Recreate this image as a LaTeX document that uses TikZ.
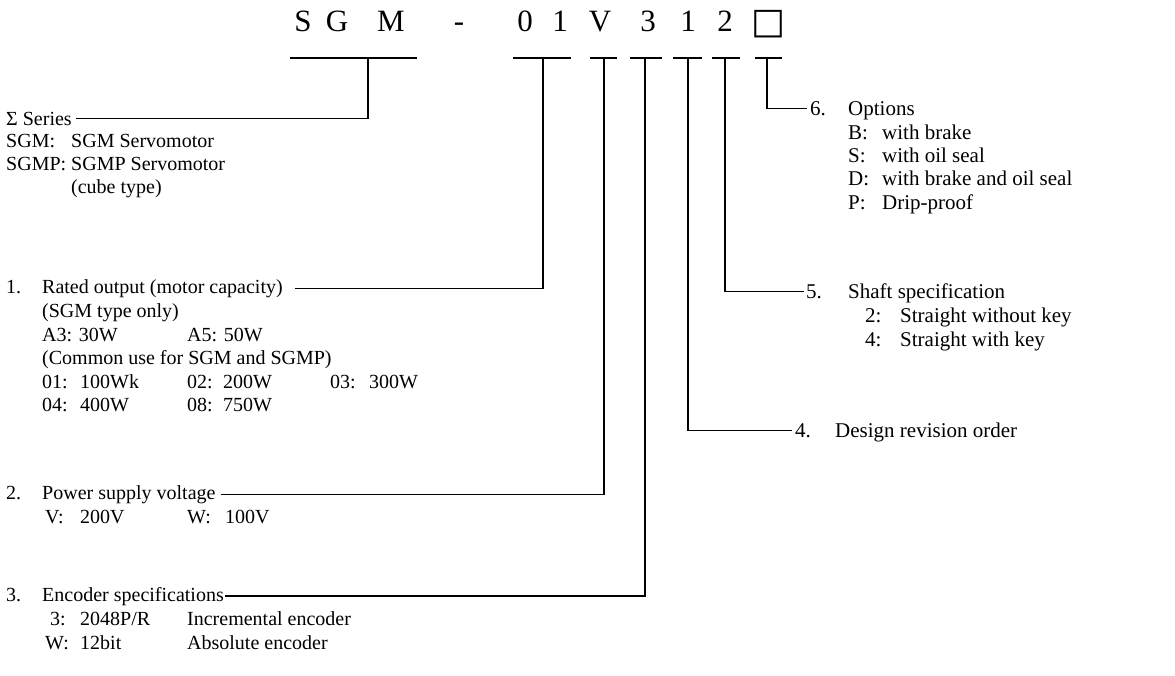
\documentclass[tikz,border=0pt]{standalone}
\usepackage{fontspec}
\setmainfont{Liberation Serif}
\newfontfamily\symfont{DejaVu Sans}
\begin{document}
\begin{tikzpicture}[x=1pt,y=-1pt,
  txt/.style={anchor=base west,inner sep=0pt,font=\fontsize{20}{24}\selectfont},
  rtxt/.style={anchor=base west,inner sep=0pt,font=\fontsize{21}{25}\selectfont},
  hd/.style={anchor=base,inner sep=0pt,font=\fontsize{31}{36}\selectfont},
  ln/.style={line width=1.3pt},
  bar/.style={line width=1.3pt}]
\useasboundingbox (0,0) rectangle (1175,675);
% header
\node[hd] (hS) at (303,31) {S};
\node[hd] (hG) at (337,31) {G};
\node[hd] (hM) at (391,31) {M};
\node[hd] (hD) at (459,31) {-};
\node[hd] (h0) at (525,31) {0};
\node[hd] (h1) at (560,31) {1};
\node[hd] (hV) at (600,31) {V};
\node[hd] (h3) at (648,31) {3};
\node[hd] (h1b) at (688,31) {1};
\node[hd] (h2) at (725,31) {2};
\node[hd,font=\symfont\fontsize{36}{40}\selectfont] (hB) at (768,33) {□};
% stem tops
\coordinate (sS) at (368,58);
\coordinate (s1) at (543,58);
\coordinate (s2) at (604,58);
\coordinate (s3) at (645,58);
\coordinate (s4) at (688,58);
\coordinate (s5) at (725,58);
\coordinate (s6) at (767,58);
% underlines
\draw[bar] (290,58) -- (417,58);
\draw[bar] (513,58) -- (571,58);
\draw[bar] (590,58) -- (617,58);
\draw[bar] (630,58) -- (662,58);
\draw[bar] (673,58) -- (702,58);
\draw[bar] (712,58) -- (740,58);
\draw[bar] (755,58) -- (782,58);
% left texts
\node[txt] (sig) at (6,125) {Σ Series};
\node[txt] (sgm) at (6,147) {SGM:};
\node[txt] (sgmt) at (71,147) {SGM Servomotor};
\node[txt] (sgmp) at (6,170) {SGMP:};
\node[txt] (sgmpt) at (71,170) {SGMP Servomotor};
\node[txt] (cube) at (71,193) {(cube type)};
\node[txt] (n1) at (6,293) {1.};
\node[txt] (t1) at (42,293) {Rated output (motor capacity)};
\node[txt] (only) at (42,317) {(SGM type only)};
\node[txt] (a3) at (42,341) {A3: 30W};
\node[txt] (a5) at (187,341) {A5: 50W};
\node[txt] (com) at (42,364) {(Common use for SGM and SGMP)};
\node[txt] (c01) at (42,388) {01:};
\node[txt] (v01) at (80,388) {100Wk};
\node[txt] (c02) at (187,388) {02:};
\node[txt] (v02) at (223,388) {200W};
\node[txt] (c03) at (330,388) {03:};
\node[txt] (v03) at (369,388) {300W};
\node[txt] (c04) at (42,411) {04:};
\node[txt] (v04) at (80,411) {400W};
\node[txt] (c08) at (187,411) {08:};
\node[txt] (v08) at (223,411) {750W};
\node[txt] (n2) at (6,499) {2.};
\node[txt] (t2) at (42,499) {Power supply voltage};
\node[txt] (cv) at (45,523) {V:};
\node[txt] (vv) at (80,523) {200V};
\node[txt] (cw) at (187,523) {W:};
\node[txt] (vw) at (225,523) {100V};
\node[txt] (n3) at (6,601) {3.};
\node[txt] (t3) at (42,601) {Encoder specifications};
\node[txt] (e3) at (50,625) {3:};
\node[txt] (e3v) at (80,625) {2048P/R};
\node[txt] (e3d) at (187,625) {Incremental encoder};
\node[txt] (ew) at (45,649) {W:};
\node[txt] (ewv) at (80,649) {12bit};
\node[txt] (ewd) at (187,649) {Absolute encoder};
% right texts
\node[rtxt] (n6) at (810,115) {6.};
\node[rtxt] (t6) at (848,115) {Options};
\node[rtxt] (oB) at (848,139) {B:};
\node[rtxt] (oBt) at (882,139) {with brake};
\node[rtxt] (oS) at (848,162) {S:};
\node[rtxt] (oSt) at (882,162) {with oil seal};
\node[rtxt] (oD) at (848,185) {D:};
\node[rtxt] (oDt) at (882,185) {with brake and oil seal};
\node[rtxt] (oP) at (848,209) {P:};
\node[rtxt] (oPt) at (882,209) {Drip-proof};
\node[rtxt] (n5) at (806,298) {5.};
\node[rtxt] (t5) at (848,298) {Shaft specification};
\node[rtxt] (k2) at (865,322) {2:};
\node[rtxt] (k2t) at (900,322) {Straight without key};
\node[rtxt] (k4) at (865,346) {4:};
\node[rtxt] (k4t) at (900,346) {Straight with key};
\node[rtxt] (n4) at (795,437) {4.};
\node[rtxt] (t4) at (835,437) {Design revision order};
% connectors
\draw[ln] ([xshift=4pt]sig.east) -| (sS);
\draw[ln] ([xshift=12pt]t1.east) -| (s1);
\draw[ln] ([xshift=5pt]t2.east) -| (s2);
\draw[ln] ([xshift=1pt]t3.east) -| (s3);
\draw[ln] (s4) |- ([xshift=-3pt]n4.west);
\draw[ln] (s5) |- ([xshift=-2pt]n5.west);
\draw[ln] (s6) |- ([xshift=-3pt]n6.west);
\end{tikzpicture}
\end{document}
